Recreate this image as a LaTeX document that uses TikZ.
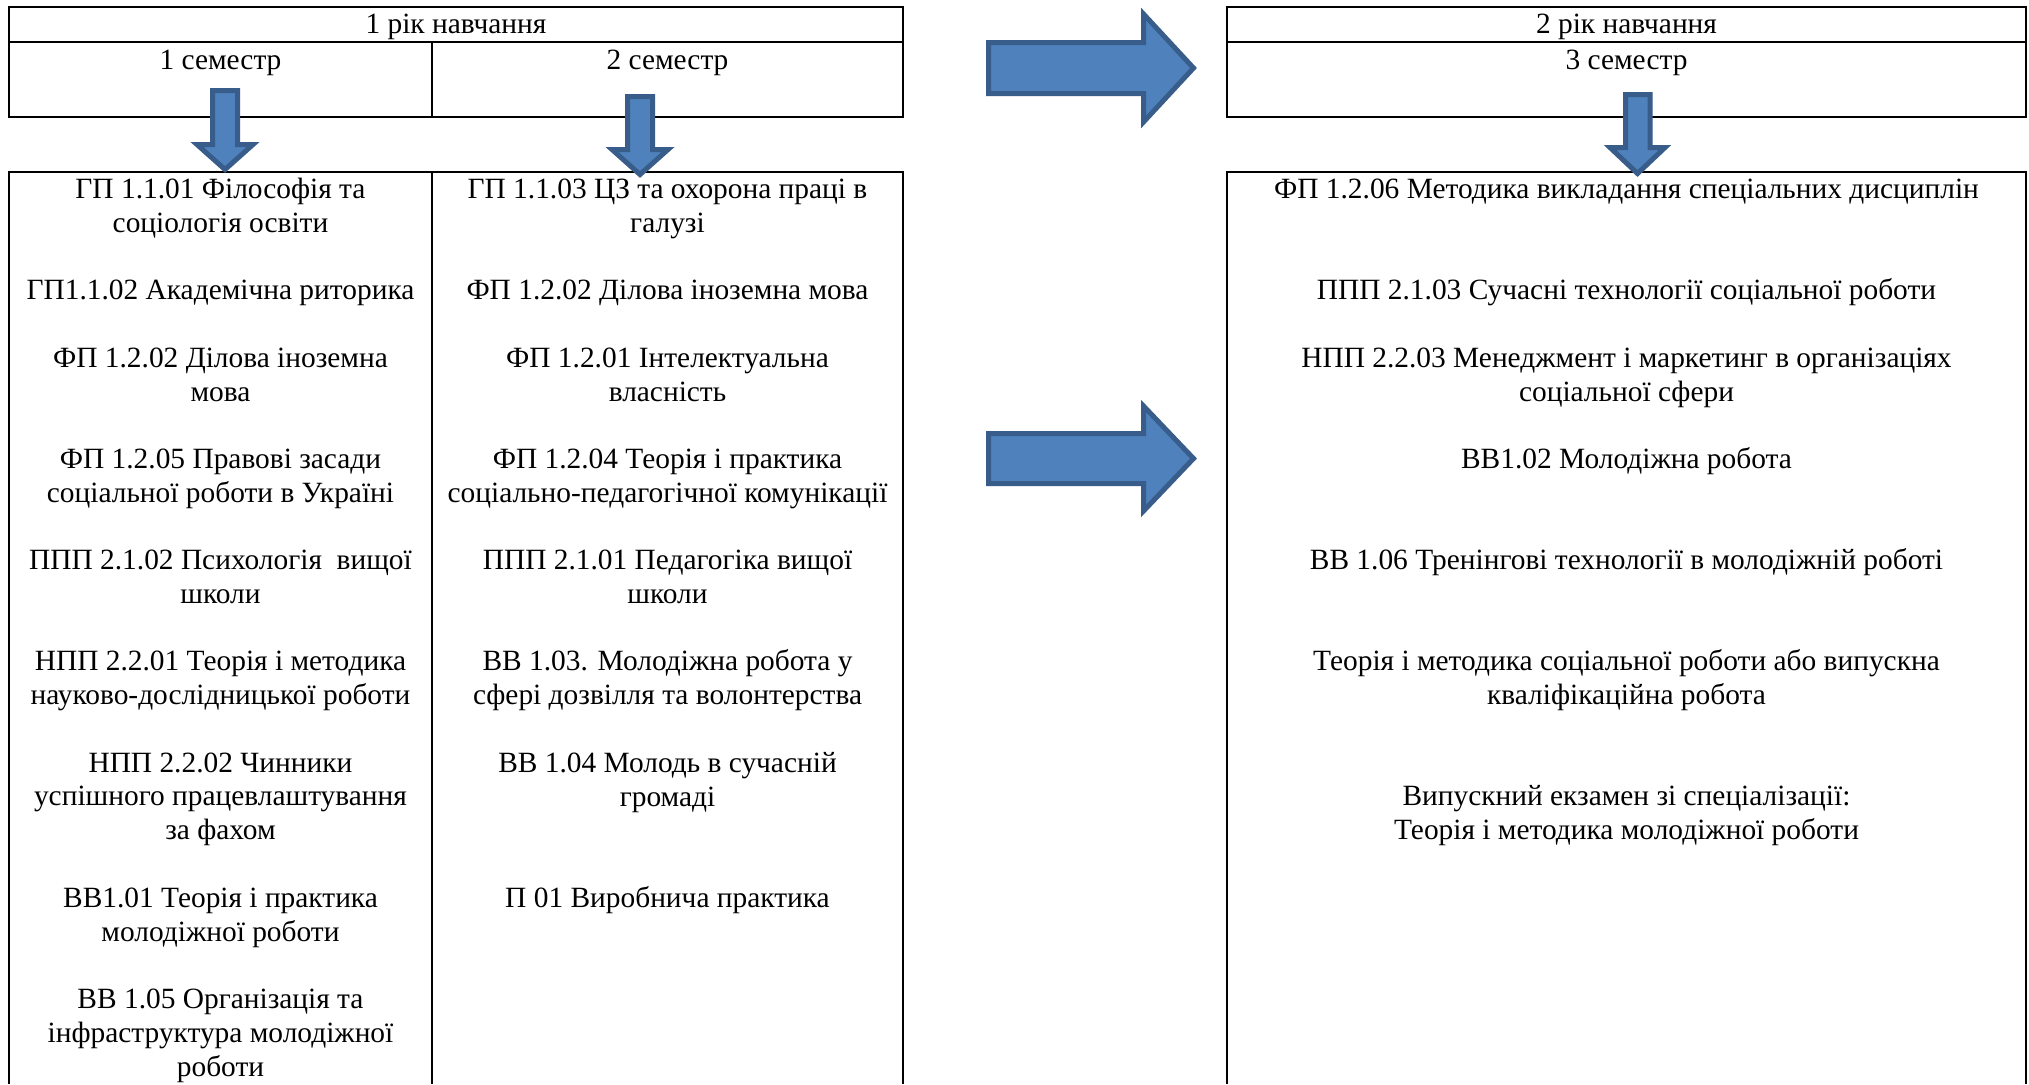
\documentclass[tikz,border=0pt]{standalone}
\usepackage{fontspec}
\setmainfont{Liberation Serif}
\definecolor{arrowfill}{HTML}{4F81BD}
\definecolor{arrowline}{HTML}{385D8A}
\begin{document}
\begin{tikzpicture}[x=0.5pt,y=-0.5pt,
  tbl/.style={line width=1pt, draw=black},
  txt/.style={anchor=base, align=center, inner sep=0pt, font=\fontsize{14.7}{16.9}\selectfont},
  blockarrow/.style={fill=arrowfill, draw=arrowline, line width=2.5pt, line join=miter}]
\useasboundingbox (0,0) rectangle (2029,1084);
\fill[white] (0,0) rectangle (2029,1084);
% ---- tables, year 1
\draw[tbl] (9,7) rectangle (903,117);
\draw[tbl] (9,42) -- (903,42) (432,42) -- (432,117);
\draw[tbl] (9,1084) -- (9,172) -- (903,172) -- (903,1084) (432,172) -- (432,1084);
% ---- tables, year 2
\draw[tbl] (1227,7) rectangle (2026,117);
\draw[tbl] (1227,42) -- (2026,42);
\draw[tbl] (1227,1084) -- (1227,172) -- (2026,172) -- (2026,1084);
% ---- headers
\node[txt] (y1) at (456,33.5) {1 рік навчання};
\node[txt] (s1) at (220.5,69) {1 семестр};
\node[txt] (s2) at (667.5,69) {2 семестр};
\node[txt] (y2) at (1626.5,33.5) {2 рік навчання};
\node[txt] (s3) at (1626.5,69) {3 семестр};
% ---- column 1 (node base = last line)
\node[txt] (a1) at (220.5,{198.5+33.75*1}) {ГП 1.1.01 Філософія та\\соціологія освіти};
\node[txt] (a2) at (220.5,{198.5+33.75*3}) {ГП1.1.02 Академічна риторика};
\node[txt] (a3) at (220.5,{198.5+33.75*6}) {ФП 1.2.02 Ділова іноземна\\мова};
\node[txt] (a4) at (220.5,{198.5+33.75*9}) {ФП 1.2.05 Правові засади\\соціальної роботи в Україні};
\node[txt] (a5) at (220.5,{198.5+33.75*12}) {ППП 2.1.02 Психологія~ вищої\\школи};
\node[txt] (a6) at (220.5,{198.5+33.75*15}) {НПП 2.2.01 Теорія і методика\\науково-дослідницької роботи};
\node[txt] (a7) at (220.5,{198.5+33.75*19}) {НПП 2.2.02 Чинники\\успішного працевлаштування\\за фахом};
\node[txt] (a8) at (220.5,{198.5+33.75*22}) {ВВ1.01 Теорія і практика\\молодіжної роботи};
\node[txt] (a9) at (220.5,{198.5+33.75*26}) {ВВ 1.05 Організація та\\інфраструктура молодіжної\\роботи};
% ---- column 2
\node[txt] (b1) at (667.5,{198.5+33.75*1}) {ГП 1.1.03 ЦЗ та охорона праці в\\галузі};
\node[txt] (b2) at (667.5,{198.5+33.75*3}) {ФП 1.2.02 Ділова іноземна мова};
\node[txt] (b3) at (667.5,{198.5+33.75*6}) {ФП 1.2.01 Інтелектуальна\\власність};
\node[txt] (b4) at (667.5,{198.5+33.75*9}) {ФП 1.2.04 Теорія і практика\\соціально-педагогічної комунікації};
\node[txt] (b5) at (667.5,{198.5+33.75*12}) {ППП 2.1.01 Педагогіка вищої\\школи};
\node[txt] (b6) at (667.5,{198.5+33.75*15}) {ВВ 1.03. Молодіжна робота у\\сфері дозвілля та волонтерства};
\node[txt] (b7) at (667.5,{198.5+33.75*18}) {ВВ 1.04 Молодь в сучасній\\громаді};
\node[txt] (b8) at (667.5,{198.5+33.75*21}) {П 01 Виробнича практика};
% ---- column 3
\node[txt] (c1) at (1626.5,{198.5+33.75*0}) {ФП 1.2.06 Методика викладання спеціальних дисциплін};
\node[txt] (c2) at (1626.5,{198.5+33.75*3}) {ППП 2.1.03 Сучасні технології соціальної роботи};
\node[txt] (c3) at (1626.5,{198.5+33.75*6}) {НПП 2.2.03 Менеджмент і маркетинг в організаціях\\соціальної сфери};
\node[txt] (c4) at (1626.5,{198.5+33.75*8}) {ВВ1.02 Молодіжна робота};
\node[txt] (c5) at (1626.5,{198.5+33.75*11}) {ВВ 1.06 Тренінгові технології в молодіжній роботі};
\node[txt] (c6) at (1626.5,{198.5+33.75*15}) {Теорія і методика соціальної роботи або випускна\\кваліфікаційна робота};
\node[txt] (c7) at (1626.5,{198.5+33.75*19}) {Випускний екзамен зі спеціалізації:\\Теорія і методика молодіжної роботи};
% ---- block arrows
% down arrows
\draw[blockarrow] (212.5,90.5) -- (237.5,90.5) -- (237.5,144.5) -- (253,144.5) -- (225,169.5) -- (197,144.5) -- (212.5,144.5) -- cycle;
\draw[blockarrow] (627.5,96.5) -- (652.5,96.5) -- (652.5,149.5) -- (668,149.5) -- (640,174.5) -- (612,149.5) -- (627.5,149.5) -- cycle;
\draw[blockarrow] (1625.5,94.5) -- (1650,94.5) -- (1650,147.5) -- (1665,147.5) -- (1637.5,173.5) -- (1610,147.5) -- (1625.5,147.5) -- cycle;
% right arrows
\draw[blockarrow] (988.5,42.5) -- (1143.5,42.5) -- (1143.5,14) -- (1193.5,68) -- (1143.5,122) -- (1143.5,93.5) -- (988.5,93.5) -- cycle;
\draw[blockarrow] (988.5,433.5) -- (1143.5,433.5) -- (1143.5,406) -- (1193.5,458.5) -- (1143.5,511) -- (1143.5,483.5) -- (988.5,483.5) -- cycle;
\end{tikzpicture}
\end{document}
